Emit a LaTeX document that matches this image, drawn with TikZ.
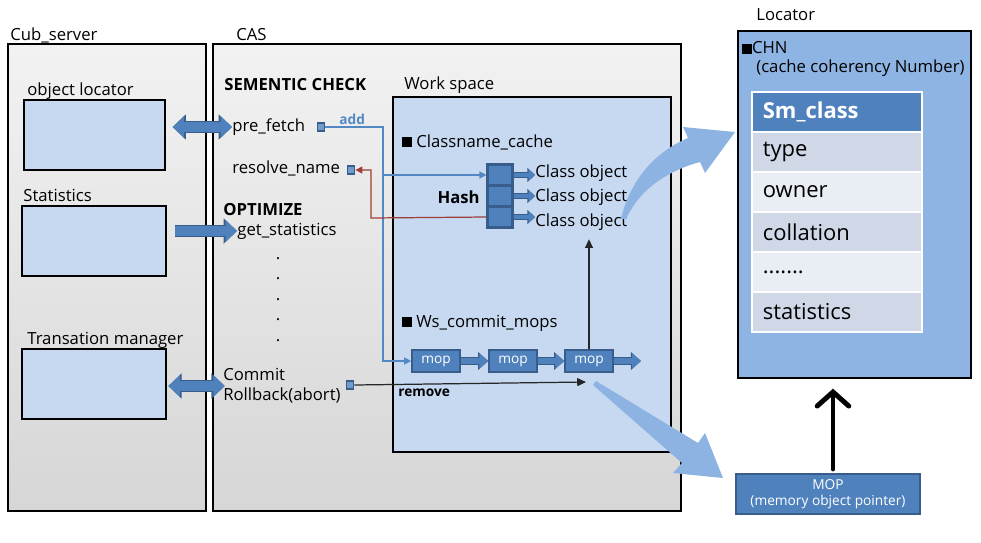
\documentclass[tikz,border=0pt]{standalone}
\usepackage{fontspec}
\setmainfont{Open Sans}
\usetikzlibrary{arrows.meta, positioning, calc, fit}
\definecolor{panelgray}{RGB}{242,242,242}
\definecolor{panelgray2}{RGB}{214,214,214}
\definecolor{paleblue}{RGB}{198,217,241}
\definecolor{locblue}{RGB}{142,180,227}
\definecolor{midblue}{RGB}{79,129,189}
\definecolor{darkblue}{RGB}{56,93,138}
\definecolor{rowdark}{RGB}{208,216,232}
\definecolor{rowlight}{RGB}{233,237,244}
\definecolor{linkblue}{RGB}{84,136,197}
\definecolor{linkred}{RGB}{160,60,57}
\definecolor{wedgeblue}{RGB}{141,179,226}
\newcommand\mainsz{\fontsize{9.5pt}{11.4pt}\selectfont}
\newcommand\smallsz{\fontsize{7.8pt}{9.4pt}\selectfont}
\newcommand\tablesz{\fontsize{12.5pt}{15pt}\selectfont}
\newcommand\bsq{\rule{5.5pt}{5.5pt}}

\tikzset{
  panel/.style={draw, line width=0.8pt, top color=panelgray, middle color=panelgray, bottom color=panelgray2, inner sep=0pt},
  subbox/.style={draw, line width=0.7pt, fill=paleblue, inner sep=0pt},
  lbl/.style={anchor=west, inner sep=0pt, font=\mainsz},
  boldlbl/.style={anchor=west, inner sep=0pt, font=\mainsz\bfseries},
  dotbox/.style={draw=darkblue, fill=midblue!80, line width=1pt, minimum width=4pt, minimum height=4.5pt, inner sep=0pt},
  hashbox/.style={draw=darkblue, fill=midblue, line width=1.2pt, minimum width=0.5cm, minimum height=0.42cm, inner sep=0pt},
  mopbox/.style={draw=darkblue, fill=midblue, line width=1.2pt, minimum width=0.95cm, minimum height=0.43cm, inner sep=0pt, text=white, font=\smallsz},
  fatlink/.style={line width=5.4pt, draw=midblue, {Triangle[length=6.5pt,width=12pt]}-{Triangle[length=6.5pt,width=12pt]},
    preaction={draw=darkblue, line width=6.8pt, {Triangle[length=7.6pt,width=14pt]}-{Triangle[length=7.6pt,width=14pt]}}},
  fatone/.style={line width=5.4pt, draw=midblue, -{Triangle[length=6.5pt,width=12pt]},
    preaction={draw=darkblue, line width=6.8pt, -{Triangle[length=7.6pt,width=14pt]}}},
  mopflow/.style={line width=3.4pt, draw=midblue, -{Triangle[length=5pt,width=8.5pt]},
    preaction={draw=darkblue, line width=4.6pt, -{Triangle[length=5.8pt,width=10pt]}}},
  hashflow/.style={line width=2.6pt, draw=midblue, -{Triangle[length=3.6pt,width=6.5pt]},
    preaction={draw=darkblue, line width=3.6pt, -{Triangle[length=4.3pt,width=7.8pt]}}},
  addlink/.style={draw=linkblue, line width=0.7pt, -{Triangle[length=4pt,width=4pt]}},
  namelink/.style={draw=linkred, line width=0.7pt, -{Triangle[length=4pt,width=4pt]}},
  thinlink/.style={draw=black!85, line width=0.7pt, -{Triangle[length=5pt,width=4.5pt]}},
  bigup/.style={draw=black, line width=2.8pt, line cap=round, -{Straight Barb[length=8pt,width=18pt,line cap=round]}},
  row/.style={anchor=north west, draw=white, line width=1pt, minimum width=3.4cm, minimum height=0.8cm,
    text width=2.96cm, inner xsep=0.22cm, align=left, font=\tablesz},
}

\begin{document}
\begin{tikzpicture}[x=0.02cm, y=-0.02cm]
  \useasboundingbox (0,0) rectangle (981,542);

  \node[panel, fit={(8,44) (206,511)}] (cub) {};
  \node[panel, fit={(213,44) (681,511)}] (cas) {};
  \node[lbl] at (10,35) {Cub\_server};
  \node[lbl] at (236,35) {CAS};

  \node[subbox, fit={(24,100) (165,170)}] (objloc) {};
  \node[subbox, fit={(22,206) (166,276)}] (stats) {};
  \node[subbox, fit={(22,349) (166,419)}] (tm) {};
  \node[lbl] at (27,91) {object locator};
  \node[lbl] at (23,195) {Statistics};
  \node[lbl] at (27,340) {Transation manager};

  \node[boldlbl] at (224,85) {SEMENTIC CHECK};
  \node[lbl] (prefetch) at (232,127) {pre\_fetch};
  \node[lbl] (resolve) at (232,168) {resolve\_name};
  \node[boldlbl] at (223,210) {OPTIMIZE};
  \node[lbl] (getstat) at (237,231) {get\_statistics};
  \foreach \k in {0,...,4}
    \node[anchor=base, inner sep=0pt, font=\mainsz] at (278,{259+20.5*\k}) {.};
  \node[lbl, align=left] (commit) at (223,386) {Commit\\Rollback(abort)};

  \node[dotbox] (pfdot) at (321,127) {};
  \node[dotbox] (rndot) at (351,170) {};
  \node[dotbox] (cmdot) at (350,385) {};
  \node[anchor=west, inner sep=0pt, font=\smallsz\bfseries, text=linkblue] at (339,119) {add};

  \node[subbox, fit={(393,97) (671,452)}] (ws) {};
  \node[lbl] at (404,85) {Work space};
  \node[lbl] at (402,142) {\bsq\ Classname\_cache};
  \node[lbl] at (402,323) {\bsq\ Ws\_commit\_mops};

  \node[hashbox] (h1) at (500,175) {};
  \node[hashbox] (h2) at (500,196) {};
  \node[hashbox] (h3) at (500,217) {};
  \node[boldlbl, anchor=east] at (480,197) {Hash};
  \node[lbl] (c1) at (535,173) {Class object};
  \node[lbl] (c2) at (535,197) {Class object};
  \node[lbl] (c3) at (535,222) {Class object};
  \foreach \i in {1,2,3}
    \draw[hashflow] (h\i.east) -- (h\i.east -| c\i.west);

  \node[mopbox] (m1) at (436,361) {mop};
  \node[mopbox] (m2) at (513,361) {mop};
  \node[mopbox] (m3) at (589,361) {mop};
  \coordinate (mtail) at (641,361);
  \draw[mopflow] (m1) -- (m2);
  \draw[mopflow] (m2) -- (m3);
  \draw[mopflow] (m3) -- (mtail);

  \draw[fatlink] ([xshift=4pt]objloc.east |- prefetch.west) -- (prefetch.west);
  \draw[fatone] ([xshift=4.5pt]stats.east |- getstat.west) -- (getstat.west);
  \draw[fatlink] ([xshift=1pt]tm.east |- commit.west) -- ([xshift=1pt]commit.west);

  \coordinate (bus) at (383,127);
  \draw[addlink] (pfdot.east) -- (bus) |- (h1.west);
  \draw[addlink] (bus) |- (m1.west);
  \coordinate (rbend) at (371,218);
  \draw[namelink] (h3.west) -- (rbend) |- (rndot.east);
  \coordinate (rmend) at (586,382);
  \draw[thinlink] (cmdot.east) -- (rmend);
  \node[anchor=west, inner sep=0pt, font=\smallsz\bfseries] at (398,393) {remove};
  \draw[thinlink] (m3.north) -- ++(0,-110);

  \node[draw, line width=0.8pt, fill=locblue, inner sep=0pt, fit={(738,31) (971,378)}] (loc) {};
  \node[lbl] at (756,15) {Locator};
  \node[lbl] at (742,48) {\bsq CHN};
  \node[lbl] at (756,68) {(cache coherency Number)};
  \node[row, fill=midblue, text=white, font=\tablesz\bfseries] (smc) at (751,91) {Sm\_class};
  \foreach \t/\c [count=\i] in {type/rowdark, owner/rowlight, collation/rowdark, {.......}/rowlight, statistics/rowdark}
    \node[row, fill=\c] (r\i) at (751,{91+40*\i}) {\t};

  \node[draw=darkblue, fill=midblue, line width=1.2pt, minimum width=3.68cm, minimum height=0.8cm, inner sep=0pt,
    text=white, font=\smallsz, align=center] (mop) at (828,494) {MOP\\(memory object pointer)};
  \draw[bigup] ($(mop.north)+(5,-4)$) -- ($(mop.north |- loc.south)+(5,10)$);

  \fill[wedgeblue] (621,219) .. controls (630,180) and (655,152) .. (688,138) -- (683,127) -- (735,132)
    -- (705,173) -- (700,162) .. controls (670,170) and (640,188) .. (626,219) -- cycle;
  \fill[wedgeblue] (596,381) -- (698,443) -- (705,433) -- (723,478) -- (673,473) -- (682,463) -- (593,385) -- cycle;
\end{tikzpicture}
\end{document}
